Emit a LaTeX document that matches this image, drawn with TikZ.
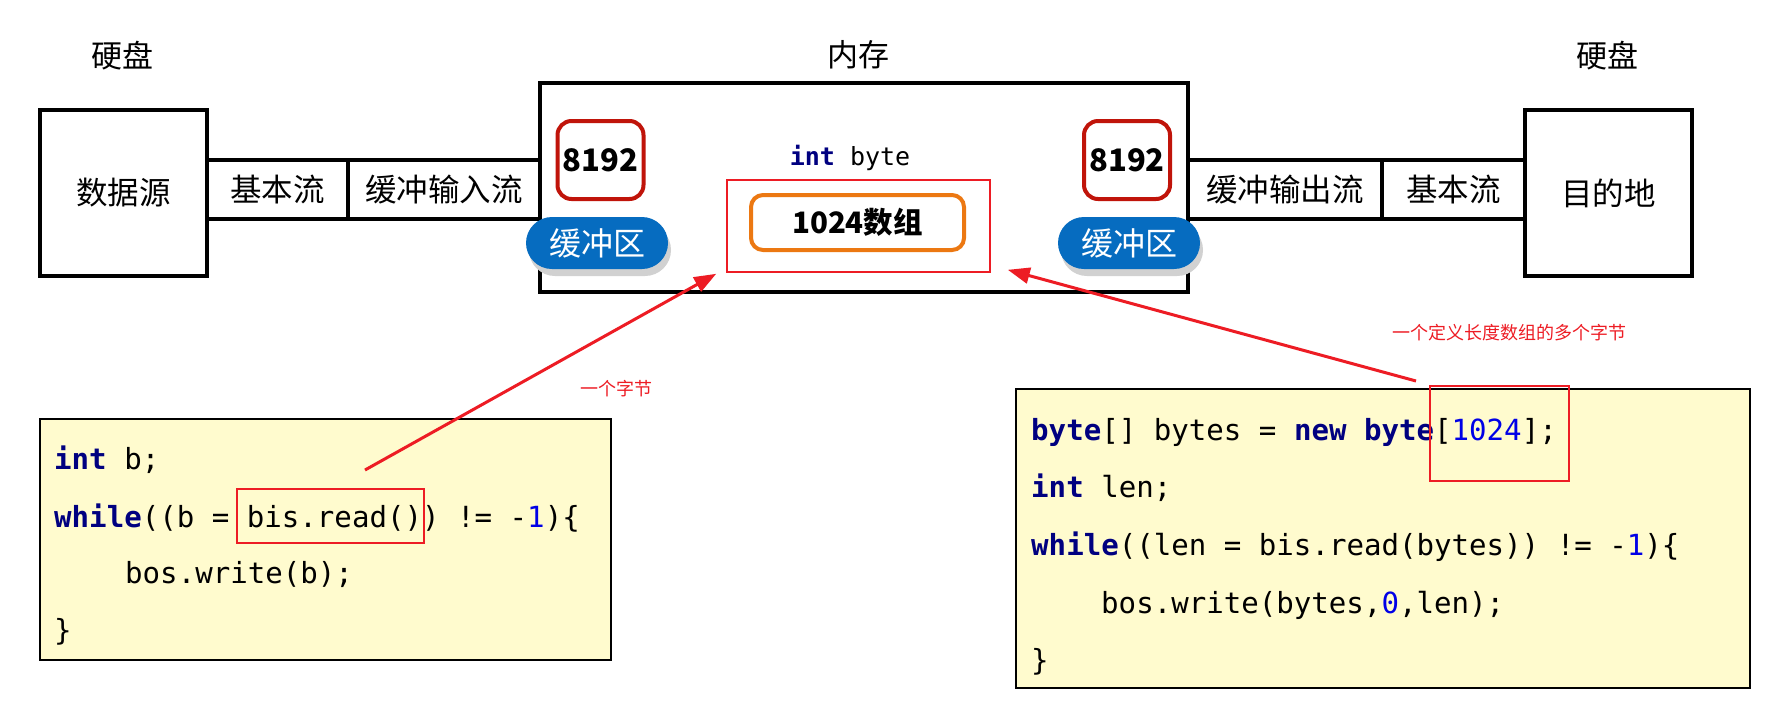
\documentclass[tikz,border=0pt]{standalone}
\usepackage{fontspec}
\setmainfont{Noto Sans CJK SC}
\setmonofont{DejaVu Sans Mono}
\usetikzlibrary{arrows.meta,shadows}
\definecolor{darkred8}{RGB}{192,20,10}
\definecolor{orng}{RGB}{236,120,18}
\definecolor{pillblue}{RGB}{6,108,192}
\definecolor{annred}{RGB}{237,28,36}
\definecolor{codebg}{RGB}{255,251,206}
\definecolor{navy}{RGB}{0,0,128}
\definecolor{numblue}{RGB}{0,0,230}
\newcommand\kw[1]{{\bfseries\color{navy}#1}}
\newcommand\cnum[1]{{\color{numblue}#1}}
\begin{document}
\begin{tikzpicture}[x=1pt,y=-1pt,
  lbl/.style={font=\fontsize{31}{34}\selectfont},
  blk/.style={draw=black,line width=4pt,fill=white,inner sep=0pt},
  cell/.style={draw=black,line width=4pt,inner sep=0pt,minimum height=59pt,font=\fontsize{31.5}{34}\selectfont},
  bufnum/.style={draw=darkred8,line width=4pt,rounded corners=14pt,minimum width=86pt,minimum height=78pt,inner sep=0pt,font=\bfseries\fontsize{31}{34}\selectfont},
  pill/.style={fill=pillblue,text=white,rounded corners=26pt,minimum width=142pt,minimum height=52pt,inner sep=0pt,font=\fontsize{32}{34}\selectfont,
     drop shadow={shadow xshift=3pt,shadow yshift=-7pt,fill=black!18,opacity=1}},
  thinred/.style={draw=annred,line width=1.6pt,inner sep=0pt},
  codebox/.style={draw=black,line width=2pt,fill=codebg,inner sep=0pt},
  codeA/.style={font=\ttfamily\fontsize{29.1}{32}\selectfont,anchor=base west,inner sep=0pt},
  ann/.style={text=annred,font=\fontsize{18}{20}\selectfont},
  arr/.style={draw=annred,line width=3pt,-{Triangle[length=22pt,width=16pt]}}
]
\useasboundingbox (0,0) rectangle (1790,716);
% labels
\node[lbl] (hdL) at (122,56) {硬盘};
\node[lbl] (mem-l) at (858,55) {内存};
\node[lbl] (hdR) at (1607,56) {硬盘};
% memory
\node[blk,minimum width=648pt,minimum height=209pt] (mem) at (864,187.5) {};
% left side
\node[blk,minimum width=167pt,minimum height=166pt,font=\fontsize{31.5}{34}\selectfont] (src) at (123.5,193) {数据源};
\node[cell,minimum width=141pt] (basic1) at (277.5,189.5) {基本流};
\node[cell,minimum width=192pt] (bufin) at (444,189.5) {缓冲输入流};
% right side
\node[cell,minimum width=194pt] (bufout) at (1285,189.5) {缓冲输出流};
\node[cell,minimum width=143pt] (basic2) at (1453.5,189.5) {基本流};
\node[blk,minimum width=167pt,minimum height=166pt,font=\fontsize{31.5}{34}\selectfont] (dst) at (1608.5,193) {目的地};
% buffers
\node[bufnum] (numL) at (600.5,160) {8192};
\node[pill] (pillL) at (597,243) {缓冲区};
\node[bufnum] (numR) at (1127,160) {8192};
\node[pill] (pillR) at (1129,243) {缓冲区};
% inner
\node[font=\ttfamily\fontsize{25}{28}\selectfont,inner sep=0pt] (ib) at (850,158) {\kw{int} byte};
\node[thinred,minimum width=263pt,minimum height=92pt] (arrbox) at (858.5,226) {};
\node[draw=orng,line width=4pt,rounded corners=12pt,minimum width=213pt,minimum height=55pt,inner sep=0pt,font=\bfseries\fontsize{29.5}{32}\selectfont] (arr1024) at (857.5,222.5) {1024数组};
% left code
\node[codebox,minimum width=571pt,minimum height=241pt] (codeL) at (325.5,539.5) {};
\node[codeA] (l1) at (54,469) {\kw{int} b;};
\node[codeA] (l2) at (54,527) {\kw{while}((b = bis.read()) != -\cnum{1})\{};
\node[codeA] (l3) at (125,583) {bos.write(b);};
\node[codeA] (l4) at (54,640) {\}};
\node[thinred,minimum width=187pt,minimum height=54pt] (readbox) at (330.5,516) {};
% right code
\node[codebox,minimum width=734pt,minimum height=299pt] (codeR) at (1383,538.5) {};
\node[codeA] (r1) at (1031,440) {\kw{byte}[] bytes = \kw{new} \kw{byte}[\cnum{1024}];};
\node[codeA] (r2) at (1031,497) {\kw{int} len;};
\node[codeA] (r3) at (1031,555) {\kw{while}((len = bis.read(bytes)) != -\cnum{1})\{};
\node[codeA] (r4) at (1101,613) {bos.write(bytes,\cnum{0},len);};
\node[codeA] (r5) at (1031,670) {\}};
\node[thinred,minimum width=139pt,minimum height=95pt] (lenbox) at (1499.5,433.5) {};
% annotations
\node[ann] (annL) at (616,389) {一个字节};
\node[ann] (annR) at (1509,333) {一个定义长度数组的多个字节};
\coordinate (tailL) at (365,470);
\coordinate (tailR) at (1416,381);
\draw[arr] (tailL) -- ([xshift=-10pt,yshift=-1pt]arrbox.south west);
\draw[arr] (tailR) -- ([xshift=17pt,yshift=3pt]arrbox.south east);
\end{tikzpicture}
\end{document}
